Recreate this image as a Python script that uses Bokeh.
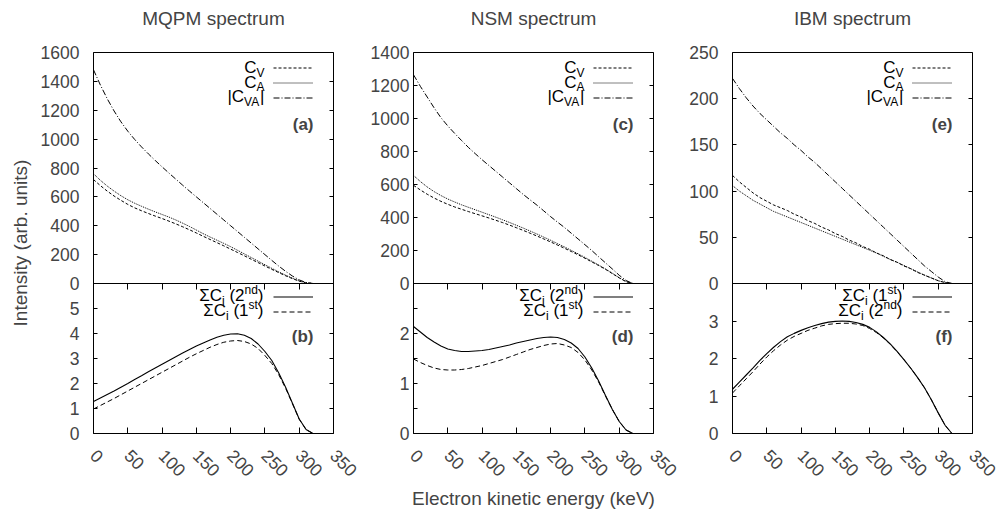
import math
from bokeh.plotting import figure
from bokeh.models import Range1d, LinearAxis, FixedTicker, Label, Legend, LegendItem, Span, Title
from bokeh.layouts import row
from bokeh.embed import file_html
from bokeh.resources import INLINE

# ---------------- data ----------------
energy = [0, 10, 20, 30, 40, 50, 60, 70, 80, 90, 100, 110, 120, 130, 140, 150, 160,
          170, 180, 190, 200, 210, 220, 230, 240, 250, 260, 270, 280, 290, 300, 310, 320]

# MQPM
mqpm_cv = [720, 678, 640, 606, 576, 548, 524, 504, 485, 467, 450, 432, 413, 393, 372, 350, 327,
           305, 283, 261, 238, 215, 192, 168, 145, 121, 98, 76, 54, 34, 16, 4, 0]
mqpm_ca = [760, 715, 675, 640, 608, 580, 556, 535, 515, 496, 478, 460, 440, 418, 395, 370, 345,
           322, 300, 278, 255, 230, 205, 180, 155, 130, 105, 81, 58, 37, 18, 5, 0]
mqpm_cva = [1480, 1375, 1280, 1195, 1120, 1055, 998, 946, 898, 852, 808, 765, 723, 681, 640, 600, 560,
            520, 480, 440, 400, 360, 320, 280, 240, 200, 160, 121, 85, 52, 25, 7, 0]
mqpm_sum2 = [1.28, 1.42, 1.56, 1.70, 1.85, 2.00, 2.16, 2.31, 2.47, 2.62, 2.77, 2.92, 3.07, 3.22, 3.36, 3.50, 3.62,
             3.74, 3.85, 3.93, 3.98, 3.99, 3.93, 3.80, 3.58, 3.28, 2.92, 2.43, 1.86, 1.22, 0.58, 0.16, 0]
mqpm_sum1 = [0.98, 1.12, 1.26, 1.40, 1.55, 1.70, 1.85, 2.00, 2.15, 2.30, 2.45, 2.60, 2.75, 2.90, 3.05, 3.19, 3.32,
             3.45, 3.56, 3.65, 3.70, 3.72, 3.68, 3.58, 3.40, 3.12, 2.80, 2.36, 1.82, 1.20, 0.57, 0.16, 0]

# NSM
nsm_cv = [595, 567, 541, 518, 498, 480, 464, 450, 436, 423, 410, 397, 383, 369, 354, 338, 322,
          305, 288, 270, 252, 233, 214, 194, 174, 153, 131, 109, 86, 60, 34, 11, 0]
nsm_ca = [655, 618, 585, 557, 533, 512, 494, 477, 462, 447, 432, 417, 402, 386, 370, 353, 336,
          318, 300, 281, 262, 242, 222, 201, 180, 158, 135, 112, 88, 62, 35, 12, 0]
nsm_cva = [1265, 1195, 1130, 1065, 1005, 955, 910, 867, 825, 787, 750, 715, 680, 645, 610, 575, 540,
           507, 475, 440, 405, 372, 340, 305, 270, 235, 200, 162, 125, 88, 50, 18, 0]
nsm_sum2 = [2.14, 2.03, 1.92, 1.83, 1.75, 1.69, 1.66, 1.64, 1.64, 1.65, 1.66, 1.68, 1.71, 1.74, 1.77, 1.81, 1.84,
            1.87, 1.90, 1.92, 1.93, 1.92, 1.88, 1.81, 1.70, 1.53, 1.31, 1.05, 0.76, 0.48, 0.24, 0.07, 0]
nsm_sum1 = [1.49, 1.42, 1.36, 1.31, 1.28, 1.27, 1.27, 1.28, 1.30, 1.33, 1.36, 1.40, 1.44, 1.48, 1.53, 1.58, 1.63,
            1.68, 1.72, 1.76, 1.79, 1.80, 1.77, 1.72, 1.62, 1.47, 1.27, 1.03, 0.75, 0.48, 0.24, 0.07, 0]

# IBM
ibm_cv = [117, 110, 104, 98, 93, 89, 85, 82, 79, 75, 72, 68, 65, 61, 58, 54, 51,
          47, 44, 40, 37, 33, 30, 26, 23, 19, 16, 12, 9, 6, 3, 1, 0]
ibm_ca = [106, 100, 95, 90, 86, 82, 78, 75, 72, 69, 66, 63, 60, 57, 54, 51, 48,
          45, 42, 39, 36, 33, 29.5, 26, 23, 19.5, 16, 12.5, 9, 6, 3, 1, 0]
ibm_cva = [222, 211, 201, 192, 184, 177, 170, 163, 157, 150, 144, 137, 131, 124, 117, 110, 103,
           96, 89, 82, 75, 68, 61, 54, 47, 40, 33, 26, 19, 13, 7, 2, 0]
ibm_sum1 = [1.18, 1.37, 1.56, 1.75, 1.95, 2.13, 2.30, 2.45, 2.58, 2.67, 2.75, 2.82, 2.88, 2.93, 2.97, 2.99, 3.00,
            2.99, 2.96, 2.91, 2.83, 2.71, 2.56, 2.39, 2.19, 1.97, 1.74, 1.49, 1.22, 0.90, 0.55, 0.22, 0]
ibm_sum2 = [1.08, 1.27, 1.46, 1.65, 1.85, 2.04, 2.21, 2.36, 2.49, 2.59, 2.67, 2.75, 2.81, 2.87, 2.91, 2.93, 2.94,
            2.94, 2.92, 2.88, 2.80, 2.69, 2.55, 2.38, 2.18, 1.97, 1.74, 1.49, 1.22, 0.90, 0.55, 0.22, 0]

titles = ["MQPM spectrum", "NSM spectrum", "IBM spectrum"]
panel_tags = ["(a)", "(b)", "(c)", "(d)", "(e)", "(f)"]

x_ticks = [0, 50, 100, 150, 200, 250, 300, 350]
x_labels = ["0", "50", "100", "150", "200", "250", "300", "350"]

yt_a = [0, 200, 400, 600, 800, 1000, 1200, 1400, 1600]
yl_a = ["0", "200", "400", "600", "800", "1000", "1200", "1400", "1600"]
yt_b = [0, 1, 2, 3, 4, 5]
yl_b = ["0", "1", "2", "3", "4", "5"]
ym_b = []
yt_c = [0, 200, 400, 600, 800, 1000, 1200, 1400]
yl_c = ["0", "200", "400", "600", "800", "1000", "1200", "1400"]
yt_d = [0, 1, 2]
yl_d = ["0", "1", "2"]
ym_d = [0.5, 1.5, 2.5]
yt_e = [0, 50, 100, 150, 200, 250]
yl_e = ["0", "50", "100", "150", "200", "250"]
yt_f = [0, 1, 2, 3]
yl_f = ["0", "1", "2", "3"]
ym_f = []

# ---------------- style helpers ----------------
FONT = "Liberation Sans"
TICK_FS = "17.5px"
LABEL_FS = "19px"
FW = 240
FH_TOP, FH_BOT = 231, 150
FH = FH_TOP + FH_BOT

WIDTHS = {"C": 0.722, "V": 0.667, "A": 0.667, "|": 0.26, "Σ": 0.617, "i": 0.222, " ": 0.278,
          "(": 0.333, ")": 0.333, "1": 0.556, "2": 0.556, "n": 0.556, "d": 0.556, "s": 0.5, "t": 0.278}


def tw(s, size):
    return sum(WIDTHS.get(c, 0.556) for c in s) * size


def rich(p, segs, right_x, center_y, main=17):
    """segments laid out right-aligned; center_y = middle of the main text (screen, up from frame bottom)"""
    total = sum(tw(s, sz) + pad for s, sz, dy, pad in segs)
    x = right_x - total
    base = center_y - 0.3465 * main
    for s, sz, dy, pad in segs:
        x += pad
        p.add_layout(Label(x=x, y=base - dy + 0.3465 * sz, x_units="screen", y_units="screen", text=s,
                           text_font=FONT, text_font_size=f"{sz}px", text_align="left",
                           text_baseline="middle", text_color="black"))
        x += tw(s, sz)


def hidden_axis(ticks, minor, tick_in, **kw):
    return LinearAxis(ticker=FixedTicker(ticks=ticks, minor_ticks=minor), major_label_text_font_size="1px",
                      major_label_text_color=None, major_label_standoff=0, major_tick_in=tick_in,
                      major_tick_out=0, minor_tick_in=tick_in, minor_tick_out=0, axis_line_color=None, **kw)


def legend(items, vx, vy, h, spacing):
    return Legend(items=[LegendItem(label=" ", renderers=[r]) for r in items],
                  location=(vx, vy), margin=0, padding=0, spacing=spacing, glyph_width=40, glyph_height=h,
                  label_height=h, label_width=12, label_standoff=0, label_text_font_size="1px",
                  label_text_color=None, border_line_color=None, background_fill_alpha=0)


def panel(top, top_max, yt_top, yl_top, bot, bot_ords, bot_max, yt_bot, yl_bot, ym_bot,
          lb, rb, ystand, title, tag_top, tag_bot, xlabel=None, ylabel=None):
    y0 = -top_max * FH_BOT / FH_TOP
    k = -y0 / bot_max
    p = figure(frame_width=FW, frame_height=FH, x_range=Range1d(0, 350), y_range=Range1d(y0, top_max),
               output_backend="svg", toolbar_location=None, min_border_left=lb, min_border_right=rb,
               min_border_top=52, min_border_bottom=83)
    p.extra_y_ranges = {"bot": Range1d(0, bot_max * FH / FH_BOT)}
    p.grid.visible = False
    p.outline_line_color = "black"
    p.outline_line_width = 1
    p.background_fill_color = "white"
    p.border_fill_color = "white"

    ticks = list(yt_top) + [y0 + v * k for v in yt_bot]
    labels = list(yl_top) + list(yl_bot)
    minor = [y0 + v * k for v in ym_bot]

    ya = p.yaxis[0]
    ya.ticker = FixedTicker(ticks=ticks, minor_ticks=minor)
    ya.major_label_overrides = {t: l for t, l in zip(ticks, labels)}
    ya.major_label_text_font = FONT
    ya.major_label_text_font_size = TICK_FS
    ya.major_label_standoff = ystand
    ya.major_tick_in = 4
    ya.major_tick_out = 0
    ya.minor_tick_in = 4
    ya.minor_tick_out = 0
    ya.axis_line_color = None
    if ylabel:
        ya.axis_label = ylabel
        ya.axis_label_text_font = FONT
        ya.axis_label_text_font_size = LABEL_FS
        ya.axis_label_text_font_style = "normal"
        ya.axis_label_standoff = 7
    p.add_layout(hidden_axis(ticks, minor, 4), "right")

    xa = p.xaxis[0]
    xa.ticker = FixedTicker(ticks=x_ticks)
    xa.major_label_overrides = {t: l for t, l in zip(x_ticks, x_labels)}
    xa.major_label_text_font = FONT
    xa.major_label_text_font_size = TICK_FS
    xa.major_label_orientation = -math.pi / 4
    xa.major_label_standoff = 19
    xa.major_tick_in = 6
    xa.major_tick_out = 0
    xa.minor_tick_in = 0
    xa.minor_tick_out = 0
    xa.axis_line_color = None
    if xlabel:
        xa.axis_label = xlabel
        xa.axis_label_text_font = FONT
        xa.axis_label_text_font_size = LABEL_FS
        xa.axis_label_text_font_style = "normal"
        xa.axis_label_standoff = 3
    # ticks on the upper edge of the lower panel
    p.add_layout(hidden_axis(x_ticks, [], 6, fixed_location=0), "above")
    # blank band between frame and title, then the title itself
    p.add_layout(Title(text=" ", text_font=FONT, text_font_size="10px", standoff=11), "above")
    p.add_layout(Title(text=title, align="center", vertical_align="bottom", standoff=0, text_font=FONT,
                       text_font_size=LABEL_FS, text_font_style="normal"), "above")

    # divider between the upper and lower panel
    p.add_layout(Span(location=0, dimension="width", line_color="black", line_width=1))

    # upper panel
    cv, ca, cva = top
    r1 = p.line(energy, cv, line_color="black", line_width=1, line_dash="3 2")
    r2 = p.line(energy, ca, line_color="black", line_width=1, line_dash="1 1")
    r3 = p.line(energy, cva, line_color="black", line_width=1, line_dash="6 2 1 2")
    p.add_layout(legend((r1, r2, r3), 180, FH - 52.5, 15, 0))
    rx = FW - 69
    rich(p, [("C", 17, 0, 0), ("V", 12, 3.5, 0)], rx, FH - 15)
    rich(p, [("C", 17, 0, 0), ("A", 12, 3.5, 0)], rx, FH - 29.5)
    rich(p, [("|C", 17, 0, 0), ("VA", 12, 3.5, 0), ("|", 17, 0, 0)], rx, FH - 44)

    # lower panel
    s1, s2 = bot
    b1 = p.line(energy, s1, line_color="black", line_width=1.1, y_range_name="bot")
    b2 = p.line(energy, s2, line_color="black", line_width=1, line_dash="5 3", y_range_name="bot")
    p.add_layout(legend((b1, b2), 180, FH_BOT - 35.5, 15, 0))
    rx = FW - 70
    for j, (num, sup) in enumerate(bot_ords):
        rich(p, [("ΣC", 17, 0, 0), ("i", 12, 3.5, 0), ("(" + num, 17, 0, 4.7), (sup, 12, -7, 0), (")", 17, 0, 0)],
             rx, FH_BOT - 12 - 15 * j)

    for txt, yy in ((tag_top, FH - 72), (tag_bot, FH_BOT - 53)):
        p.add_layout(Label(x=FW - 20, y=yy, x_units="screen", y_units="screen", text=txt,
                           text_font=FONT, text_font_size="17px", text_font_style="bold",
                           text_align="right", text_baseline="middle"))
    return p


pa = panel((mqpm_cv, mqpm_ca, mqpm_cva), 1600, yt_a, yl_a,
           (mqpm_sum2, mqpm_sum1), (("2", "nd"), ("1", "st")), 6, yt_b, yl_b, ym_b,
           93, 34, 14, titles[0], panel_tags[0], panel_tags[1], ylabel="Intensity (arb. units)")
pc = panel((nsm_cv, nsm_ca, nsm_cva), 1400, yt_c, yl_c,
           (nsm_sum2, nsm_sum1), (("2", "nd"), ("1", "st")), 3, yt_d, yl_d, ym_d,
           45, 33, 4, titles[1], panel_tags[2], panel_tags[3], xlabel="Electron kinetic energy (keV)")
pe = panel((ibm_cv, ibm_ca, ibm_cva), 250, yt_e, yl_e,
           (ibm_sum1, ibm_sum2), (("1", "st"), ("2", "nd")), 4, yt_f, yl_f, ym_f,
           46, 31, 14, titles[2], panel_tags[4], panel_tags[5])

layout = row(pa, pc, pe)
open("out.html", "w").write(file_html(layout, INLINE))
